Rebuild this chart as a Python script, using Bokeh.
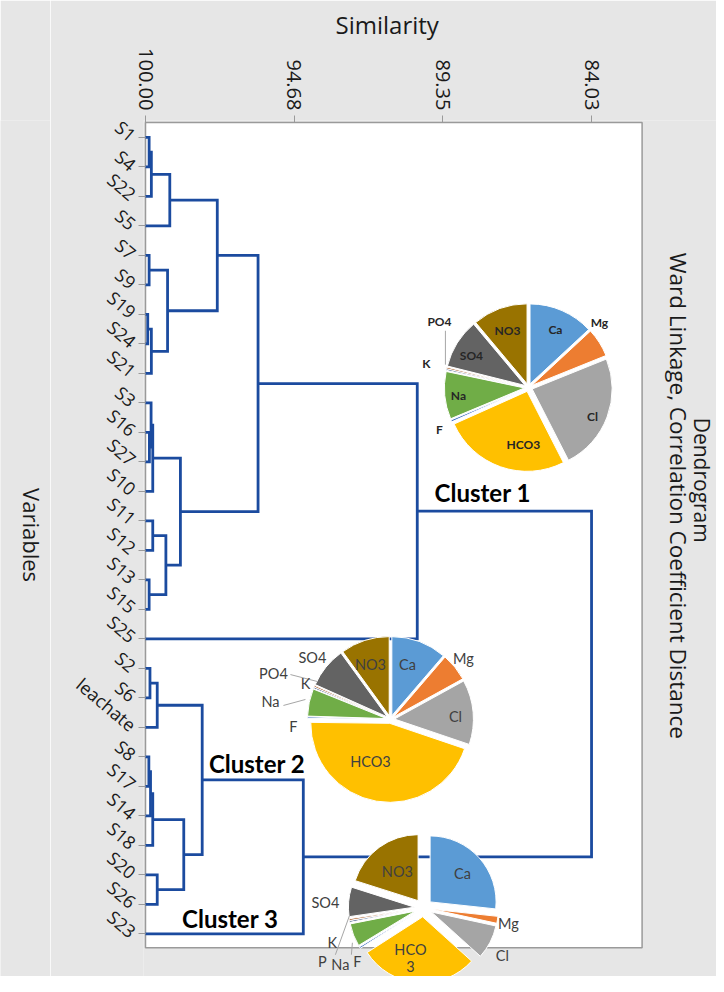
import math
from bokeh.plotting import figure
from bokeh.layouts import row
from bokeh.models import Range1d, FixedTicker, PrintfTickFormatter, ColumnDataSource, Title
from bokeh.core.properties import value
from bokeh.embed import file_html
from bokeh.resources import INLINE

# ---------------- data ----------------
leaves = ["S1", "S4", "S22", "S5", "S7", "S9", "S19", "S24", "S21", "S3", "S16", "S27",
          "S10", "S11", "S12", "S13", "S15", "S25", "S2", "S6", "leachate", "S8", "S17",
          "S14", "S18", "S20", "S26", "S23"]

# merges (child a, child b, similarity level); "mK" refers to the K-th merge
merge_a = ["S1", "m0", "m1", "S7", "S19", "m4", "m3", "m2", "S16", "S3", "m9", "S11", "S13", "m11",
           "m10", "m7", "m15", "S2", "m17", "S8", "m19", "m20", "S20", "m21", "m18", "m24", "m16"]
merge_b = ["S4", "S22", "S5", "S9", "S24", "S21", "m5", "m6", "S27", "m8", "S10", "S12", "S15", "m12",
           "m13", "m14", "S25", "S6", "leachate", "S17", "S14", "S18", "S26", "m22", "m23", "S23", "m25"]
merge_sim = [99.87, 99.79, 99.13, 99.87, 99.92, 99.79, 99.21, 97.43, 99.86, 99.80, 99.74, 99.74, 99.87, 99.27,
             98.75, 95.97, 90.27, 99.84, 99.58, 99.88, 99.82, 99.74, 99.58, 98.63, 97.97, 94.35, 84.03]

similarity_ticks = [100.00, 94.68, 89.35, 84.03]

ions = ["Ca", "Mg", "Cl", "HCO3", "F", "Na", "K", "PO4", "SO4", "NO3"]
ion_colors = ["#5B9BD5", "#ED7D31", "#A5A5A5", "#FFC000", "#4472C4",
              "#70AD47", "#264478", "#9E480E", "#636363", "#997300"]
cluster1_pct = [13.1, 5.8, 23.6, 25.8, 0.4, 9.6, 0.3, 0.3, 10.0, 11.1]
cluster2_pct = [11.3, 5.7, 13.2, 45.0, 0.3, 5.6, 0.3, 0.3, 8.3, 10.0]
cluster3_pct = [26.7, 1.7, 8.3, 29.2, 0.4, 5.6, 0.4, 0.4, 7.2, 20.1]
cluster3_text = ["Ca", "Mg", "Cl", "HCO\n3", "F", "Na", "K", "P", "SO4", "NO3"]
cluster_names = ["Cluster 1", "Cluster 2", "Cluster 3"]

# ---------------- layout ----------------
BG = "#e6e6e6"
DEND = "#1b4b9f"
FRAME = "#9a9a9a"
TXT = "#1a1a1a"
PXX, PXY = 27.93, 29.6          # pixels per similarity unit / per leaf
H = 976
LW = 50                          # strip holding the "Variables" label
W = 716 - LW
ML, MT = 143 - LW, 117
FW, FH = W - ML, H - MT
x_start = 100 + 2 / PXX
x_end = x_start - FW / PXX
y_top = -17 / PXY
y_bot = y_top + FH / PXY

# left strip with the axis title "Variables" (frame aligned with the main plot's frame)
q = figure(width=LW, height=H, x_range=Range1d(0, LW), y_range=Range1d(H, MT),
           x_axis_location=None, y_axis_location=None, output_backend="svg", toolbar_location=None,
           min_border_left=0, min_border_right=0, min_border_top=MT, min_border_bottom=0,
           background_fill_color=BG, border_fill_color=BG, outline_line_color=None)
q.grid.visible = False
q.text(x=[31], y=[533], text=["Variables"], angle=-math.pi / 2, text_align="center",
       text_baseline="middle", text_font=value("Open Sans"), text_font_size="22px", text_color=TXT)

p = figure(width=W, height=H, x_range=Range1d(x_start, x_end), y_range=Range1d(y_bot, y_top),
           x_axis_location="above", output_backend="svg", toolbar_location=None,
           min_border_left=ML, min_border_right=0, min_border_top=MT, min_border_bottom=0,
           background_fill_color=BG, border_fill_color=BG, outline_line_color=None)
p.grid.visible = False

# white plot area
p.quad(left=[100.0], right=[82.22], top=[-0.51], bottom=[27.47],
       fill_color="white", line_color=FRAME, line_width=1.5)

# top axis (similarity)
xa = p.xaxis[0]
xa.ticker = FixedTicker(ticks=similarity_ticks)
xa.formatter = PrintfTickFormatter(format="%.2f")
xa.major_label_orientation = -math.pi / 2
xa.major_label_text_font = "Open Sans"
xa.major_label_text_font_size = "20px"
xa.major_label_text_color = TXT
xa.major_label_standoff = 5
xa.axis_line_color = None
xa.major_tick_in = 2
xa.major_tick_out = 5
xa.major_tick_line_color = FRAME
xa.minor_tick_in = 0
xa.minor_tick_out = 0
p.add_layout(Title(text="Similarity", align="left", offset=192, standoff=10,
                   text_font="Open Sans", text_font_size="24px", text_font_style="normal",
                   text_color=TXT), "above")

# left axis (variables)
ya = p.yaxis[0]
ya.ticker = FixedTicker(ticks=list(range(len(leaves))))
ya.major_label_overrides = {i: n for i, n in enumerate(leaves)}
ya.major_label_orientation = -0.70
ya.major_label_text_font = "Open Sans"
ya.major_label_text_font_size = "18px"
ya.major_label_text_color = TXT
ya.major_label_standoff = 5
ya.axis_line_color = None
ya.major_tick_in = 2
ya.major_tick_out = 5
ya.major_tick_line_color = FRAME
ya.minor_tick_in = 0
ya.minor_tick_out = 0

# ---------------- dendrogram ----------------
pos = {n: (100.0, float(i)) for i, n in enumerate(leaves)}
paths_x, paths_y = [], []
for k, (a, b, s) in enumerate(zip(merge_a, merge_b, merge_sim)):
    sa, ya_ = pos[a]
    sb, yb_ = pos[b]
    paths_x.append([sa, s, s, sb])
    paths_y.append([ya_, ya_, yb_, yb_])
    pos["m%d" % k] = (s, (ya_ + yb_) / 2)
p.multi_line(xs=paths_x, ys=paths_y, line_color=DEND, line_width=2.8, line_join="miter")

# cluster labels
p.text(x=[89.65, 97.73, 98.69], y=[12.05, 21.22, 26.49], text=cluster_names,
       text_font=value("Lato"), text_font_style="bold", text_font_size="24px",
       text_align="left", text_baseline="alphabetic", text_color="#000000")

# chart titles (right side, reading top to bottom)
p.text(x=[80.06], y=[11.62], text=["Dendrogram"],
       angle=-math.pi / 2, text_align="center", text_baseline="middle",
       text_font=value("Open Sans"), text_font_size="21px", text_color=TXT)
p.text(x=[80.92], y=[12.15], text=["Ward Linkage, Correlation Coefficient Distance"],
       angle=-math.pi / 2, text_align="center", text_baseline="middle",
       text_font=value("Open Sans"), text_font_size="22.5px", text_color=TXT)

# ---------------- pies ----------------
def draw_pie(cx, cy, r, explode, pcts, texts, tdx, tdy, font_size, bold, leaders):
    xs, ys, st, en, cols = [], [], [], [], []
    cum = 0.0
    for pct, col in zip(pcts, ion_colors):
        a0 = cum * 3.6
        a1 = (cum + pct) * 3.6
        cum += pct
        mid = math.radians((a0 + a1) / 2)
        ox = explode * math.sin(mid)
        oy = -explode * math.cos(mid)
        xs.append(cx - ox / PXX)
        ys.append(cy + oy / PXY)
        st.append(math.radians(90 - a0))
        en.append(math.radians(90 - a1))
        cols.append(col)
    src = ColumnDataSource(dict(x=xs, y=ys, s=st, e=en, c=cols))
    p.wedge(x="x", y="y", radius=r, radius_units="screen", start_angle="s", end_angle="e",
            direction="clock", fill_color="c", line_color="white", line_width=1, source=src)
    for (dx0, dy0, dx1, dy1) in leaders:
        p.segment(x0=[cx - dx0 / PXX], y0=[cy + dy0 / PXY], x1=[cx - dx1 / PXX], y1=[cy + dy1 / PXY],
                  line_color="#a6a6a6", line_width=1)
    lsrc = ColumnDataSource(dict(x=[cx - d / PXX for d in tdx], y=[cy + d / PXY for d in tdy], t=texts))
    p.text(x="x", y="y", text="t", source=lsrc, text_font=value("Lato"),
           text_font_style="bold" if bold else "normal", text_font_size=font_size,
           text_align="center", text_baseline="middle", text_line_height=1.0,
           text_color="#262626" if bold else "#404040")

draw_pie(86.29, 8.48, 80, 4, cluster1_pct, ions,
         [27, 71, 64, -5, -89, -70, -102, -89, -57, -21],
         [-58, -65, 29, 57, 42, 8, -24, -66, -32, -57], "12px", True,
         [(-83, -57, -83, -23)])
draw_pie(91.23, 19.73, 79, 4, cluster2_pct, ions,
         [17, 73, 65, -20, -97, -120, -85, -117, -78, -20],
         [-55, -61, -3, 42, 7, -18, -36, -46, -62, -55], "14.5px", False,
         [(-100, -45, -73, -38), (-107, -14, -85, -20)])
draw_pie(90.05, 26.12, 66, 9, cluster3_pct, cluster3_text,
         [39, 85, 79, -13, -66, -83, -91, -101, -98, -26],
         [-35, 16, 48, 50, 54, 57, 35, 54, -5, -37], "14.5px", False,
         [(-74, 8, -88, 47), (-71, 35, -72, 47)])

open("out.html", "w").write(file_html(row(q, p), INLINE))
